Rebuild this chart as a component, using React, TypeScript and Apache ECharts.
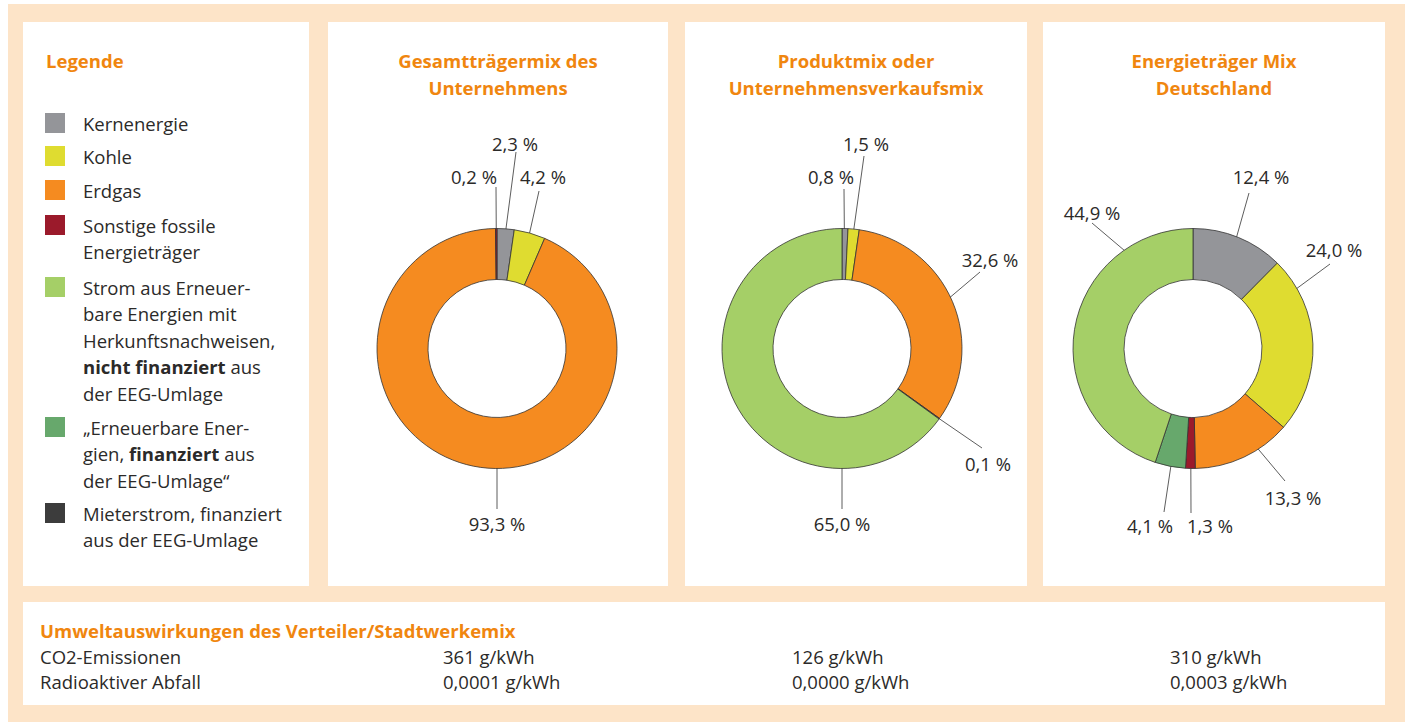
import React, { useEffect, useRef } from 'react';
import * as echarts from 'echarts';

// ---------- data ----------
const sourceNames = [
  'Kernenergie',
  'Kohle',
  'Erdgas',
  'Sonstige fossile Energieträger',
  '„Erneuerbare Energien, finanziert aus der EEG-Umlage“',
  'Strom aus Erneuerbare Energien mit Herkunftsnachweisen, nicht finanziert aus der EEG-Umlage',
  'Mieterstrom, finanziert aus der EEG-Umlage',
];
const sourceColors = ['#949599', '#dfdc30', '#f58b20', '#9b1a2b', '#67a86c', '#a5cf67', '#3c3c3c'];
const legendOrder = [0, 1, 2, 3, 5, 4, 6];
const legendTexts = [
  'Kernenergie',
  'Kohle',
  'Erdgas',
  'Sonstige fossile\nEnergieträger',
  '„Erneuerbare Ener-\ngien, {b|finanziert} aus\nder EEG-Umlage“',
  'Strom aus Erneuer-\nbare Energien mit\nHerkunftsnachweisen,\n{b|nicht finanziert} aus\nder EEG-Umlage',
  'Mieterstrom, finanziert\naus der EEG-Umlage',
];

const chartTitles = ['Gesamtträgermix des\nUnternehmens', 'Produktmix oder\nUnternehmensverkaufsmix', 'Energieträger Mix\nDeutschland'];
const companyMix = [2.3, 4.2, 93.3, 0.2, null, null, null];
const productMix = [0.8, 1.5, 32.6, 0.1, null, 65.0, null];
const germanyMix = [12.4, 24.0, 13.3, 1.3, 4.1, 44.9, null];

const impactTitle = 'Umweltauswirkungen des Verteiler/Stadtwerkemix';
const impactRows = ['CO2-Emissionen', 'Radioaktiver Abfall'];
const co2Values = [361, 126, 310];
const wasteValues = [0.0001, 0.0, 0.0003];

// ---------- layout / style ----------
const FONT = '"Open Sans"';
const ORANGE = '#f0860f';
const TEXT = '#2b2a29';
const PEACH = '#fde4c8';
const FS = 18.5;
const LH = 26.5;

const centers: [number, number][] = [[497, 348.5], [842, 348.5], [1193, 348.5]];
const titleX = [498, 856, 1214];
const valueColX = [443, 792, 1170];
const legendIconTops = [113, 146, 180, 215, 277, 417, 503];

// label placement per slice: [angle (null = slice middle), startRadius, lineEndDx, lineEndDy, labelDx, labelDy]
type Spec = [number | null, number, number, number, number, number] | null;
const labelSpecs: Spec[][] = [
  [
    [null, 115, 19, -196.5, 18, -205.5],
    [null, 117, 42, -157.5, 46, -172.5],
    [180, 102.5, 0, 160.5, 0, 174.5],
    [null, 100, -1, -161.5, -23, -172.5],
    null, null, null,
  ],
  [
    [null, 100, 2, -159.5, -11, -172.5],
    [null, 115.5, 22, -192.5, 24, -205.5],
    [null, 104, 138, -76.5, 148, -89.5],
    [null, 120, 140, 99.5, 146, 114.5],
    null,
    [180, 102.5, 0, 160.5, 0, 174.5],
    null,
  ],
  [
    [null, 102, 56, -155.5, 68, -172.5],
    [61, 103, 137, -84.5, 141, -99.5],
    [148, 105.5, 92, 132.5, 100, 148.5],
    [null, 101.5, -2, 164.5, 17, 176.5],
    [null, 103.5, -29, 163.5, -43, 176.5],
    [328, 100, -101, -125.5, -101, -136.5],
    null,
  ],
];

const fmtPct = (v: number) => `${v.toFixed(1).replace('.', ',')} %`;

function buildPie(idx: number, values: (number | null)[]) {
  const [cx, cy] = centers[idx];
  const total = values.reduce((s: number, v) => s + (v ?? 0), 0);
  const mids: (number | null)[] = [];
  let acc = 0;
  values.forEach((v) => {
    if (v == null) { mids.push(null); return; }
    mids.push(((acc + v / 2) / total) * 360);
    acc += v;
  });
  const specs = labelSpecs[idx];
  return {
    type: 'pie',
    id: 'pie' + idx,
    center: [cx, cy],
    radius: [69, 120],
    startAngle: 90,
    clockwise: true,
    avoidLabelOverlap: false,
    silent: true,
    emphasis: { disabled: true },
    itemStyle: { borderColor: '#333333', borderWidth: 0.8 },
    label: {
      show: true,
      position: 'outside',
      formatter: (p: any) => fmtPct(p.value),
      fontFamily: FONT,
      fontSize: FS,
      color: TEXT,
    },
    labelLine: { show: true, length: 10, length2: 0, lineStyle: { color: '#333333', width: 0.8 } },
    labelLayout: (p: any) => {
      const s = specs[p.dataIndex];
      const mid = mids[p.dataIndex];
      if (!s || mid == null) return {};
      const ang = ((s[0] ?? mid) * Math.PI) / 180;
      const sx = cx + s[1] * Math.sin(ang);
      const sy = cy - s[1] * Math.cos(ang);
      return {
        x: cx + s[4],
        y: cy + s[5],
        align: 'center',
        verticalAlign: 'middle',
        labelLinePoints: [[sx, sy], [cx + s[2], cy + s[3]]],
      };
    },
    data: values.map((v, i) => ({
      name: sourceNames[i],
      value: v,
      itemStyle: { color: sourceColors[i] },
      label: { show: v != null },
      labelLine: { show: v != null },
    })),
  };
}

export default function App() {
  const ref = useRef<HTMLDivElement>(null);
  useEffect(() => {
    if (!ref.current) return;
    const chart = echarts.init(ref.current, null, { renderer: 'svg' });

    const titleStyle = { fontFamily: FONT, fontWeight: 'bold', fontSize: 18.5, color: ORANGE, lineHeight: 27 };
    const legendTextByName: Record<string, string> = {};
    sourceNames.forEach((n, i) => { legendTextByName[n] = legendTexts[i]; });

    const graphicEls: any[] = [
      { type: 'rect', z: 0, shape: { x: 8, y: 4, width: 1397, height: 718 }, style: { fill: PEACH } },
      { type: 'rect', z: 0, shape: { x: 23, y: 22, width: 286, height: 564 }, style: { fill: '#ffffff' } },
      { type: 'rect', z: 0, shape: { x: 328, y: 22, width: 340, height: 564 }, style: { fill: '#ffffff' } },
      { type: 'rect', z: 0, shape: { x: 685, y: 22, width: 342, height: 564 }, style: { fill: '#ffffff' } },
      { type: 'rect', z: 0, shape: { x: 1043, y: 22, width: 342, height: 564 }, style: { fill: '#ffffff' } },
      { type: 'rect', z: 0, shape: { x: 23, y: 602, width: 1362, height: 103 }, style: { fill: '#ffffff' } },
    ];
    impactRows.forEach((row, r) => {
      const y = 656 + r * 25;
      graphicEls.push({ type: 'text', z: 1, style: { text: row, x: 40, y, fill: TEXT, fontFamily: FONT, fontSize: FS, verticalAlign: 'middle' } });
      const vals = r === 0 ? co2Values.map((v) => `${v} g/kWh`) : wasteValues.map((v) => `${v.toFixed(4).replace('.', ',')} g/kWh`);
      vals.forEach((t, c) => {
        graphicEls.push({ type: 'text', z: 1, style: { text: t, x: valueColX[c], y, fill: TEXT, fontFamily: FONT, fontSize: FS, verticalAlign: 'middle' } });
      });
    });

    // one legend component per entry so multi-line entries align their first line with the swatch
    const legends = legendOrder.map((i, k) => {
      const nLines = legendTexts[i].split('\n').length;
      return {
        orient: 'vertical',
        left: 45,
        top: legendIconTops[k] + 10 - ((2 * nLines - 1) * LH) / 2,
        padding: 0,
        itemWidth: 20,
        itemHeight: 20,
        icon: 'rect',
        selectedMode: false,
        itemStyle: { borderWidth: 0 },
        data: [{ name: sourceNames[i] }],
        formatter: (name: string) => legendTextByName[name],
        textStyle: {
          fontFamily: FONT, fontSize: FS, lineHeight: LH, color: TEXT,
          padding: [(nLines - 1) * LH, 0, 0, 13],
          rich: { b: { fontFamily: FONT, fontSize: FS, lineHeight: LH, color: TEXT, fontWeight: 'bold' } },
        },
      };
    });

    const option: any = {
      animation: false,
      backgroundColor: '#ffffff',
      tooltip: { show: false },
      title: [
        { text: 'Legende', left: 46, top: 46.5, padding: 0, textVerticalAlign: 'top', textStyle: titleStyle },
        ...chartTitles.map((t, i) => ({ text: t, left: titleX[i], top: 46.5, padding: 0, textAlign: 'center', textVerticalAlign: 'top', textStyle: titleStyle })),
        { text: impactTitle, left: 40, top: 616.5, padding: 0, textVerticalAlign: 'top', textStyle: titleStyle },
      ],
      legend: legends,
      graphic: { elements: graphicEls },
      series: [buildPie(0, companyMix), buildPie(1, productMix), buildPie(2, germanyMix)],
    };
    chart.setOption(option);
    return () => chart.dispose();
  }, []);
  return <div ref={ref} style={{ position: 'absolute', left: 0, top: 0, width: 1405, height: 722 }} />;
}
